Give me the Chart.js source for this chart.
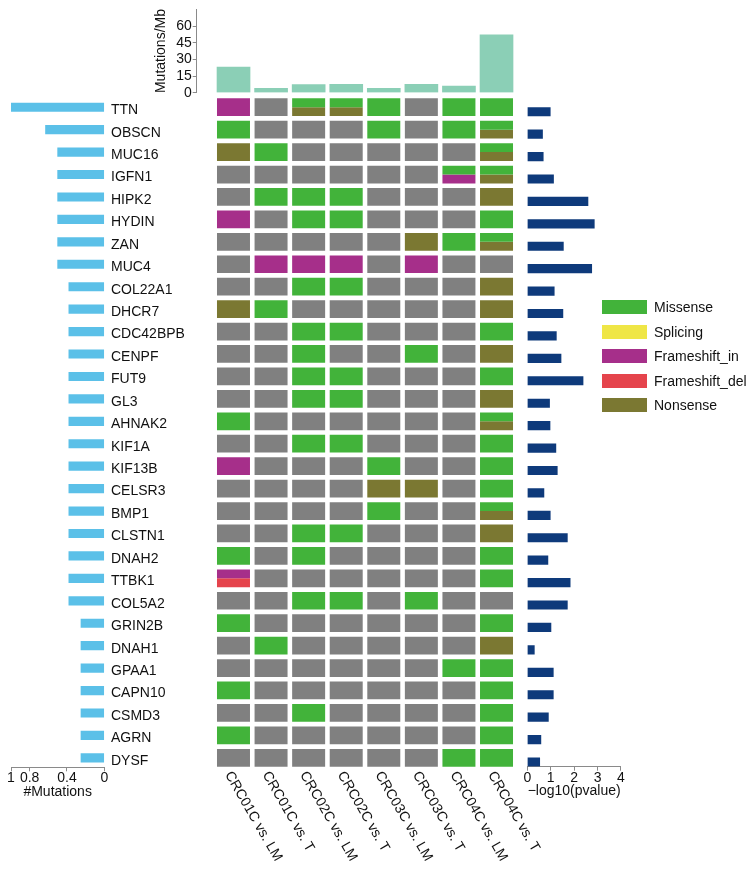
<!DOCTYPE html>
<html><head><meta charset="utf-8">
<script src="https://cdn.jsdelivr.net/npm/chart.js@4.4.1/dist/chart.umd.min.js"></script>
<style>
html,body{margin:0;padding:0;background:#fff;}
body{width:754px;height:870px;position:relative;overflow:hidden;font-family:"Liberation Sans",Arial,Helvetica,sans-serif;}
canvas{position:absolute;}
#legend{position:absolute;left:602px;top:300px;width:150px;height:120px;}
.item{position:absolute;left:0;height:14px;white-space:nowrap;font-size:14px;color:#111;}
.sw{position:absolute;left:0;top:0;width:45px;height:14px;}
.lb{position:absolute;left:52px;top:-1px;line-height:16px;}
</style></head><body>
<canvas id="topChart" width="367" height="110" style="left:149px;top:0px;"></canvas>
<canvas id="leftChart" width="215" height="790" style="left:0px;top:80px;"></canvas>
<canvas id="rightChart" width="239" height="790" style="left:515px;top:80px;"></canvas>
<canvas id="gridChart" width="370" height="790" style="left:200px;top:80px;"></canvas>
<div id="legend"></div>
<script>
// ---------- DATA ----------
const genes = ['TTN','OBSCN','MUC16','IGFN1','HIPK2','HYDIN','ZAN','MUC4','COL22A1','DHCR7',
  'CDC42BPB','CENPF','FUT9','GL3','AHNAK2','KIF1A','KIF13B','CELSR3','BMP1','CLSTN1',
  'DNAH2','TTBK1','COL5A2','GRIN2B','DNAH1','GPAA1','CAPN10','CSMD3','AGRN','DYSF'];
const samples = ['CRC01C vs. LM','CRC01C vs. T','CRC02C vs. LM','CRC02C vs. T',
  'CRC03C vs. LM','CRC03C vs. T','CRC04C vs. LM','CRC04C vs. T'];
const mutationsPerMb = [23, 4, 7.3, 7.5, 4, 7.5, 6, 52];
const mutationFraction = [1.0, 0.63, 0.5, 0.5, 0.5, 0.5, 0.5, 0.5,
  0.38, 0.38, 0.38, 0.38, 0.38, 0.38, 0.38, 0.38, 0.38, 0.38, 0.38, 0.38, 0.38, 0.38, 0.38,
  0.25, 0.25, 0.25, 0.25, 0.25, 0.25, 0.25];
const negLog10P = [0.98, 0.65, 0.68, 1.12, 2.59, 2.86, 1.54, 2.75, 1.15, 1.52,
  1.24, 1.44, 2.38, 0.95, 0.97, 1.22, 1.28, 0.71, 0.98, 1.71,
  0.88, 1.83, 1.71, 1.01, 0.30, 1.11, 1.11, 0.90, 0.58, 0.53];
// cell codes: '' none, M Missense, S Splicing, I Frameshift_in, D Frameshift_del, N Nonsense; two letters = top/bottom halves
const CRC01C_vs_LM = ['I','M','N','','','I','','','','N','','','','','M','','I','','','','M','ID','','M','','','M','','M',''];
const CRC01C_vs_T  = ['','','M','','M','','','I','','M','','','','','','','','','','','','','','','M','','','','',''];
const CRC02C_vs_LM = ['MN','','','','M','M','','I','M','','M','M','M','M','','M','','','','M','M','','M','','','','','M','',''];
const CRC02C_vs_T  = ['MN','','','','M','M','','I','M','','M','','M','M','','M','','','','M','','','M','','','','','','',''];
const CRC03C_vs_LM = ['M','M','','','','','','','','','','','','','','','M','N','M','','','','','','','','','','',''];
const CRC03C_vs_T  = ['','','','','','','N','I','','','','M','','','','','','N','','','','','M','','','','','','',''];
const CRC04C_vs_LM = ['M','M','','MI','','','M','','','','','','','','','','','','','','','','','','','M','','','','M'];
const CRC04C_vs_T  = ['M','MN','MN','MN','N','M','MN','','N','N','M','N','M','N','MN','M','M','M','MN','N','M','M','','M','N','M','M','M','M','M'];
const mutationTypes = ['Missense','Splicing','Frameshift_in','Frameshift_del','Nonsense'];
const mutationCodes = ['M','S','I','D','N'];
const topTicks = [0, 15, 30, 45, 60];
const leftTicks = [0, 0.4, 0.8, 1];
const rightTicks = [0, 1, 2, 3, 4];

// ---------- STYLE ----------
const typeColors = {M:'#42b33a', S:'#efe646', I:'#a62f8a', D:'#e5444c', N:'#7b7832', '':'#808080'};
const FONT = '"Liberation Sans", Arial, Helvetica, sans-serif';
Chart.defaults.font.family = FONT;
Chart.defaults.color = '#111';
const TXT = '#111', AX = '#8a8a8a';
const base = {responsive:false, animation:false, devicePixelRatio:1,
  plugins:{legend:{display:false}, tooltip:{enabled:false}}};

// ---------- TOP: Mutations/Mb ----------
new Chart(document.getElementById('topChart'), {
  type:'bar',
  data:{datasets:[{data: mutationsPerMb.map((v,i)=>({x:i,y:v})), backgroundColor:'#8bcfb6', barThickness:33, borderWidth:0}]},
  options:Object.assign({}, base, {
    layout:{padding:{left:0,right:0.7,top:6.2,bottom:17.3}},
    scales:{
      x:{type:'linear', min:-0.98, max:7.5, offset:false, display:false},
      y:{min:0, max:75,
        afterBuildTicks:s=>{s.ticks = topTicks.map(v=>({value:v}));},
        afterFit:s=>{s.width = 47.7;},
        ticks:{font:{size:14}, color:TXT, padding:1, callback:v=>String(v)},
        grid:{drawOnChartArea:false, drawTicks:true, tickLength:4, color:AX},
        border:{display:true, color:AX},
        title:{display:true, text:'Mutations/Mb', font:{size:14}, color:TXT, padding:{top:4,bottom:4}}}
    }})
});

// ---------- LEFT: #Mutations ----------
new Chart(document.getElementById('leftChart'), {
  type:'bar',
  data:{datasets:[{data: mutationFraction.map((v,i)=>({x:v,y:i})), backgroundColor:'#5bc0e8', barThickness:8.5, borderWidth:0}]},
  options:Object.assign({}, base, {
    indexAxis:'y',
    layout:{padding:{left:11,right:0,top:16,bottom:65.6}},
    scales:{
      x:{type:'linear', reverse:true, min:0, max:1, position:'bottom',
        afterBuildTicks:s=>{s.ticks = leftTicks.map(v=>({value:v}));},
        afterFit:s=>{s.height = 37.1;},
        ticks:{autoSkip:false, maxRotation:0, font:{size:14, lineHeight:1}, padding:0, color:TXT, callback:v=>String(v)},
        grid:{drawOnChartArea:false, tickLength:4, color:AX},
        border:{display:true, color:AX},
        title:{display:true, text:'#Mutations', font:{size:14}, color:TXT, padding:{top:0,bottom:4}}},
      y:{type:'linear', reverse:true, position:'right', min:-0.5, max:29.42, offset:false,
        afterBuildTicks:s=>{s.ticks = genes.map((g,i)=>({value:i}));},
        afterFit:s=>{s.width = 110.7;},
        ticks:{autoSkip:false, font:{size:14}, padding:6.7, labelOffset:3, color:TXT, callback:v=>genes[v]},
        grid:{display:false, drawTicks:false, offset:false},
        border:{display:false}}
    }})
});

// ---------- GRID: oncoprint cells ----------
const columns = [CRC01C_vs_LM, CRC01C_vs_T, CRC02C_vs_LM, CRC02C_vs_T, CRC03C_vs_LM, CRC03C_vs_T, CRC04C_vs_LM, CRC04C_vs_T];
const CELL = 0.395;
const gridDatasets = [];
genes.forEach((g, gi) => {
  const topD = [], topC = [], botD = [], botC = [];
  columns.forEach(col => {
    const code = col[gi];
    if (code.length === 2) {
      topD.push([gi - CELL, gi]); topC.push(typeColors[code[0]]);
      botD.push([gi, gi + CELL]); botC.push(typeColors[code[1]]);
    } else {
      topD.push([gi - CELL, gi + CELL]); topC.push(typeColors[code]);
      botD.push(null); botC.push('rgba(0,0,0,0)');
    }
  });
  gridDatasets.push({label:g, data:topD, backgroundColor:topC, borderWidth:0});
  gridDatasets.push({label:g + ' (2)', data:botD, backgroundColor:botC, borderWidth:0});
});
const rotatedLabels = {id:'rotatedLabels', afterDraw(chart){
  const {ctx, chartArea} = chart; const x = chart.scales.x;
  ctx.save();
  ctx.font = '14px ' + FONT; ctx.fillStyle = TXT; ctx.textAlign = 'left'; ctx.textBaseline = 'middle';
  samples.forEach((s, i) => {
    ctx.save();
    ctx.translate(x.getPixelForValue(i) - 5.5, chartArea.bottom + 3.5);
    ctx.rotate(Math.PI / 3);
    ctx.fillText(s, 0, 0);
    ctx.restore();
  });
  ctx.restore();
}};
new Chart(document.getElementById('gridChart'), {
  type:'bar',
  data:{labels:samples, datasets:gridDatasets},
  options:Object.assign({}, base, {
    layout:{padding:{left:14.7,right:54.7,top:16,bottom:101}},
    datasets:{bar:{grouped:false, categoryPercentage:1, barPercentage:0.878}},
    scales:{
      x:{display:false},
      y:{type:'linear', reverse:true, min:-0.5, max:29.5, display:false}
    }}),
  plugins:[rotatedLabels]
});

// ---------- RIGHT: -log10(pvalue) ----------
new Chart(document.getElementById('rightChart'), {
  type:'bar',
  data:{datasets:[{data: negLog10P.map((v,i)=>({x:v,y:i})), backgroundColor:'#0e3a7b', barThickness:8.5, borderWidth:0}]},
  options:Object.assign({}, base, {
    indexAxis:'y',
    layout:{padding:{left:12.3,right:133,top:20.5,bottom:790-686.7-37.1}},
    scales:{
      x:{type:'linear', min:0, max:4, position:'bottom',
        afterBuildTicks:s=>{s.ticks = rightTicks.map(v=>({value:v}));},
        afterFit:s=>{s.height = 37.1;},
        ticks:{autoSkip:false, maxRotation:0, font:{size:14, lineHeight:1}, padding:0, color:TXT, callback:v=>String(v)},
        grid:{drawOnChartArea:false, tickLength:4, color:AX},
        border:{display:true, color:AX},
        title:{display:true, text:'\u2212log10(pvalue)', font:{size:14}, color:TXT, padding:{top:0,bottom:4}}},
      y:{type:'linear', reverse:true, min:-0.5, max:29.21, offset:false, display:false}
    }})
});

// ---------- LEGEND ----------
const legend = document.getElementById('legend');
mutationTypes.forEach((t, i) => {
  const item = document.createElement('div');
  item.className = 'item'; item.style.top = (i * 24.5) + 'px';
  const sw = document.createElement('div'); sw.className = 'sw'; sw.style.background = typeColors[mutationCodes[i]];
  const lb = document.createElement('div'); lb.className = 'lb'; lb.textContent = t;
  item.appendChild(sw); item.appendChild(lb); legend.appendChild(item);
});
</script>
</body></html>
